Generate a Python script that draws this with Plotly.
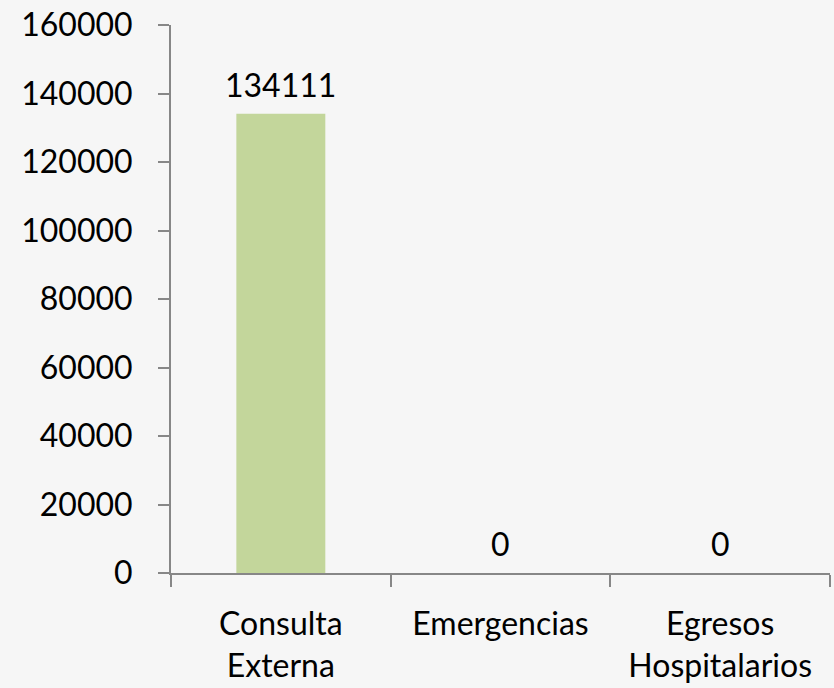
import plotly.graph_objects as go

categories = ["Consulta<br>Externa", "Emergencias", "Egresos<br>Hospitalarios"]
values = [134111, 0, 0]
tick_vals = [0, 20000, 40000, 60000, 80000, 100000, 120000, 140000, 160000]

font_family = "Lato, 'Open Sans', sans-serif"

fig = go.Figure(go.Bar(
    x=categories, y=values,
    marker=dict(color="#c3d69b", line=dict(width=0)),
    hoverinfo="x+y",
))

for c, v in zip(categories, values):
    fig.add_annotation(
        x=c, y=v, text=str(v), showarrow=False,
        xanchor="center", yanchor="bottom", yshift=8,
        font=dict(size=32, color="#000000", family=font_family),
    )

fig.update_layout(
    width=834, height=688,
    margin=dict(l=171, r=4, t=23, b=112),
    paper_bgcolor="#f6f6f6", plot_bgcolor="#f6f6f6",
    bargap=0.595,
    showlegend=False,
    font=dict(family=font_family, size=32, color="#000000"),
)
fig.update_yaxes(
    range=[0, 160000], tickvals=tick_vals, ticktext=[str(t) for t in tick_vals],
    showgrid=False, zeroline=False,
    showline=True, linecolor="#878787", linewidth=2,
    ticks="outside", ticklen=11, tickcolor="#878787", tickwidth=2,
    ticklabelstandoff=19,
    tickfont=dict(size=32, family=font_family, color="#000000"),
)
fig.update_xaxes(
    showgrid=False, showline=True, linecolor="#878787", linewidth=2,
    ticks="outside", ticklen=12, tickcolor="#878787", tickwidth=2,
    tickson="boundaries", ticklabelstandoff=22,
    tickfont=dict(size=32, family=font_family, color="#000000"),
)

fig.write_html(
    "out.html",
    config={"displayModeBar": False},
    post_script="document.body.style.margin='0';document.body.style.padding='0';window.dispatchEvent(new Event('resize'));",
)
